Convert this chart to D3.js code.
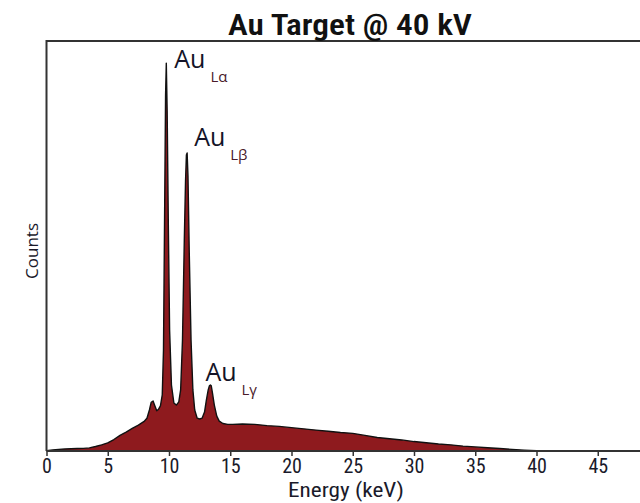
<!DOCTYPE html>
<html><head><meta charset="utf-8">
<script src="https://cdn.jsdelivr.net/npm/d3@7"></script>
<style>
html,body{margin:0;padding:0;background:#fff;overflow:hidden;}
svg{display:block;}
</style></head>
<body>
<svg id="chart" width="640" height="503"></svg>
<script>
const energy = [0,0.5,1,1.5,2,2.5,3,3.5,4,4.5,5,5.5,6,6.5,7,7.5,8,8.2,8.4,8.55,8.7,8.85,9.0,9.15,9.3,9.45,9.55,9.65,9.72,9.78,9.85,9.95,10.05,10.2,10.4,10.6,10.8,10.95,11.1,11.25,11.35,11.42,11.48,11.55,11.65,11.8,11.95,12.1,12.3,12.5,12.7,12.9,13.05,13.2,13.3,13.38,13.45,13.55,13.7,13.9,14.1,14.4,14.8,15.2,16,17,18,19,20,21,22,23,24,25,26,27,28,29,30,31,32,33,34,35,36,37,38,39,40,42,45,48,50];
const counts = [0.1,0.25,0.4,0.5,0.55,0.6,0.65,0.75,1.1,1.5,2.0,2.8,3.8,4.6,5.5,6.3,7.3,8.0,10.0,11.9,12.2,11.0,9.8,10.2,11.0,13.7,24.6,61,86.8,94.6,83,54,29.5,16.1,11.7,11.2,12.0,14.9,27,51.5,66,72.2,72.7,67,49,27,14.9,10,8,7.8,8,9.5,12.4,14.9,15.9,16.1,15.9,14.1,11.2,8.5,7.3,6.7,6.5,6.5,6.6,6.5,6.2,6.0,5.7,5.4,5.1,4.8,4.5,4.3,3.8,3.3,3.0,2.7,2.3,2.0,1.7,1.5,1.2,1.0,0.8,0.6,0.4,0.2,0.05,0,0,0,0];
const tickValues = [0,5,10,15,20,25,30,35,40,45];
const peakLabels = [
  {main:"Au", sub:"Lα", e:9.78, c:94.6},
  {main:"Au", sub:"Lβ", e:11.48, c:72.7},
  {main:"Au", sub:"Lγ", e:13.38, c:16.1}
];
const titleText = "Au Target @ 40 kV";
const xLabel = "Energy (keV)";
const yLabel = "Counts";

const svg = d3.select("#chart");
const pLeft = 46.5, pTop = 41, pBottom = 451;
const x = d3.scaleLinear().domain([0,50]).range([pLeft, pLeft + 12.25*50]);
const y = d3.scaleLinear().domain([0,100]).range([pBottom, pTop]);
const data = energy.map((e,i)=>({e, c:counts[i]}));

const condensed = "'Liberation Sans Narrow','Arial Narrow','Roboto Condensed',sans-serif";

svg.append("defs").append("clipPath").attr("id","clip")
  .append("rect").attr("x",pLeft).attr("y",pTop).attr("width",700).attr("height",pBottom-pTop);

const area = d3.area().x(d=>x(d.e)).y0(y(0)).y1(d=>y(d.c));
const line = d3.line().x(d=>x(d.e)).y(d=>y(d.c));
const g = svg.append("g").attr("clip-path","url(#clip)");
g.append("path").datum(data).attr("d",area).attr("fill","#8e1a1e");
g.append("path").datum(data).attr("d",line).attr("fill","none").attr("stroke","#111").attr("stroke-width",1.4).attr("stroke-linejoin","round");

// frame
svg.append("path").attr("d",`M${pLeft},${pBottom}V${pTop}H640`).attr("fill","none").attr("stroke","#333").attr("stroke-width",2);

// x axis
const ax = svg.append("g").attr("transform",`translate(0,${pBottom})`)
  .call(d3.axisBottom(x).tickValues(tickValues).tickSize(5).tickPadding(3).tickFormat(d3.format("d")));
ax.select(".domain").attr("stroke","#333").attr("stroke-width",2).attr("d",`M${pLeft},0H640`);
ax.selectAll(".tick line").attr("stroke","#333").attr("stroke-width",1.5);
ax.selectAll(".tick text").attr("font-family",condensed).attr("font-size",20).attr("fill","#1a1a2a");

svg.append("text").attr("x",350).attr("y",35).attr("text-anchor","middle")
  .attr("font-family",condensed).attr("font-weight","600").attr("font-size",30)
  .attr("textLength",244).attr("lengthAdjust","spacingAndGlyphs")
  .attr("fill","#111").text(titleText);
svg.append("text").attr("x",346).attr("y",497).attr("text-anchor","middle")
  .attr("font-family",condensed).attr("font-size",21)
  .attr("textLength",116).attr("lengthAdjust","spacingAndGlyphs")
  .attr("fill","#1a1a2a").text(xLabel);
svg.append("text").attr("transform","translate(38,251) rotate(-90)").attr("text-anchor","middle")
  .attr("font-family","'Open Sans',sans-serif").attr("font-size",17).attr("fill","#1a1a2a").text(yLabel);

const offs = [{dx:8,dy:5},{dx:7,dy:-7},{dx:-5,dy:-4}];
peakLabels.forEach((p,i)=>{
  const t = svg.append("text").attr("x",x(p.e)+offs[i].dx).attr("y",y(p.c)+offs[i].dy)
    .attr("font-family","'Open Sans',sans-serif").attr("fill","#141428");
  t.append("tspan").attr("font-size",25).text(p.main);
  t.append("tspan").attr("font-size",15).attr("dx",5).attr("dy",14).attr("fill","#4a1a2a").text(p.sub);
});
</script>
</body></html>
